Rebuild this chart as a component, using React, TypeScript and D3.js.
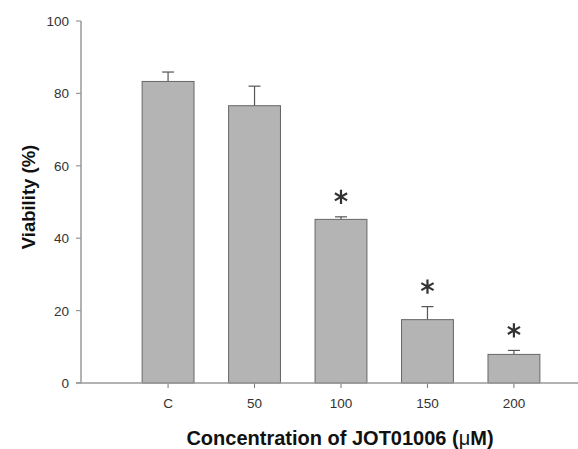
import React from 'react';
import * as d3 from 'd3';

const categories = ['C', '50', '100', '150', '200'];
const viability = [83.3, 76.6, 45.2, 17.5, 7.9];
const errorUp = [2.6, 5.4, 0.7, 3.6, 1.1];
const significant = [false, false, true, true, true];
const yTicks = [0, 20, 40, 60, 80, 100];

const W = 578;
const H = 449;
const font = 'Liberation Sans, Arial, Helvetica, sans-serif';

export default function App() {
  const y = d3.scaleLinear().domain([0, 100]).range([383, 21]);
  const x = d3.scaleBand().domain(categories).range([81, 601]).paddingInner(0.4).paddingOuter(0.707);
  const bw = x.bandwidth();
  const star = d3.symbol(d3.symbolAsterisk, 140)()!;

  return (
    <svg width={W} height={H} style={{ position: 'absolute', left: 0, top: 0, background: '#fff' }}>
      {/* bars */}
      {categories.map((c, i) => {
        const x0 = x(c)!;
        const cx = x0 + bw / 2;
        const top = y(viability[i]);
        const errTop = y(viability[i] + errorUp[i]);
        return (
          <g key={c}>
            <line x1={cx} x2={cx} y1={top} y2={errTop} stroke="#555" strokeWidth={1.2} />
            <line x1={cx - 6} x2={cx + 6} y1={errTop} y2={errTop} stroke="#555" strokeWidth={1.2} />
            <rect x={x0} y={top} width={bw} height={y(0) - top} fill="#b4b4b4" stroke="#666" strokeWidth={1} />
            {significant[i] && (
              <path d={star} transform={`translate(${cx}, ${errTop - 20})`} fill="none" stroke="#333" strokeWidth={2.2} />
            )}
            <line x1={cx} x2={cx} y1={y(0)} y2={y(0) + 5} stroke="#777" strokeWidth={1} />
            <text x={cx} y={y(0) + 25} textAnchor="middle" fontFamily={font} fontSize={13.5} fill="#333">
              {c}
            </text>
          </g>
        );
      })}

      {/* y axis */}
      <line x1={81} x2={81} y1={y(100)} y2={y(0)} stroke="#999" strokeWidth={1.5} />
      {yTicks.map((t) => (
        <g key={t}>
          <line x1={76} x2={81} y1={y(t)} y2={y(t)} stroke="#999" strokeWidth={1.2} />
          <text x={69} y={y(t) + 5} textAnchor="end" fontFamily={font} fontSize={13.5} fill="#333">
            {t}
          </text>
        </g>
      ))}
      {/* x axis */}
      <line x1={76} x2={578} y1={y(0)} y2={y(0)} stroke="#999" strokeWidth={1.5} />

      <text
        transform={`translate(35, 197) rotate(-90)`}
        textAnchor="middle"
        fontFamily={font}
        fontSize={18.5}
        fontWeight="bold"
        fill="#111"
      >
        Viability (%)
      </text>
      <text x={340} y={445} textAnchor="middle" fontFamily={font} fontSize={20} fontWeight="bold" fill="#111">
        Concentration of JOT01006 (<tspan fontWeight="normal">μ</tspan>M)
      </text>
    </svg>
  );
}
